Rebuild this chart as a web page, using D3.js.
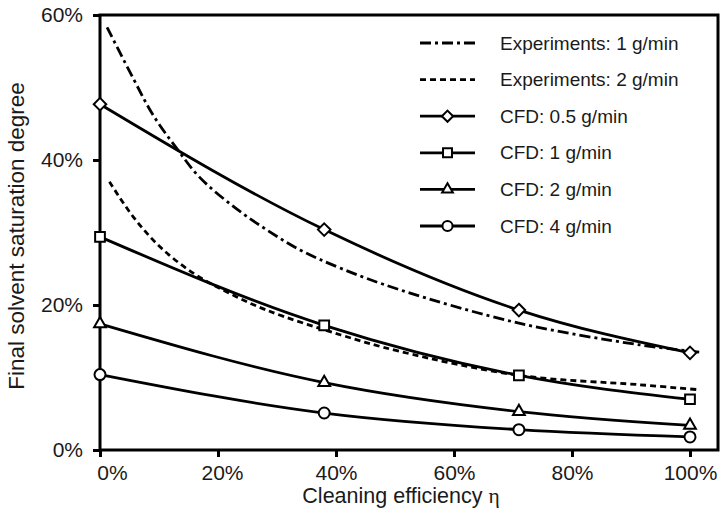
<!DOCTYPE html>
<html>
<head>
<meta charset="utf-8">
<script src="https://cdn.jsdelivr.net/npm/d3@7"></script>
<style>
  body { margin: 0; background: #fff; }
  text { font-family: "Liberation Sans", Arial, sans-serif; fill: #1a1a1a; }
</style>
</head>
<body>
<div id="chart"></div>
<script>
// CFD runs share the same cleaning efficiency points
const cfdX = [0, 38, 71, 100];
const cfd05 = [47.7, 30.4, 19.3, 13.4];
const cfd1 = [29.4, 17.2, 10.3, 7.0];
const cfd2 = [17.4, 9.3, 5.3, 3.4];
const cfd4 = [10.4, 5.1, 2.8, 1.8];

const exp1X = [1.2, 5.6, 9.0, 13, 16.9, 22.6, 28.2, 33.9, 40.7, 50.8, 71, 91.5, 101.7];
const exp1Y = [58.3, 51.3, 46.2, 41.6, 37.6, 33.6, 30.4, 27.6, 25.1, 22.1, 17.5, 14.5, 13.5];
const exp2X = [1.6, 5.6, 10.2, 15.8, 21.5, 28.2, 40.7, 50.8, 71, 91.5, 101.7];
const exp2Y = [37.0, 32.2, 28.0, 24.4, 21.8, 19.3, 15.9, 13.6, 10.3, 9.0, 8.3];

const xTicks = [0, 20, 40, 60, 80, 100];
const yTicks = [0, 20, 40, 60];
const legendLabels = ["Experiments: 1 g/min", "Experiments: 2 g/min", "CFD: 0.5 g/min",
    "CFD: 1 g/min", "CFD: 2 g/min", "CFD: 4 g/min"];

const W = 725, H = 512;
const frame = {left: 100, right: 718, top: 15, bottom: 450};

const svg = d3.select("#chart").append("svg")
    .attr("width", W).attr("height", H);

const x = d3.scaleLinear().domain([0, 100]).range([frame.left, 690]);
const y = d3.scaleLinear().domain([0, 60]).range([frame.bottom, frame.top]);

// frame
svg.append("rect")
    .attr("x", frame.left).attr("y", frame.top)
    .attr("width", frame.right - frame.left).attr("height", frame.bottom - frame.top)
    .attr("fill", "none").attr("stroke", "#000").attr("stroke-width", 3);

let xAxis = svg.append("g")
    .attr("transform", "translate(0," + frame.bottom + ")")
    .call(d3.axisBottom(x).tickValues(xTicks).tickSize(7).tickPadding(8)
        .tickFormat(d => d + "%"));
xAxis.select(".domain").remove();
xAxis.selectAll("line").attr("stroke", "#000").attr("stroke-width", 3);
xAxis.selectAll("text").attr("font-size", 21)
    .attr("dx", d => d === 0 ? 12 : (d === 20 ? 4 : 0));

let yAxis = svg.append("g")
    .attr("transform", "translate(" + frame.left + ",0)")
    .call(d3.axisLeft(y).tickValues(yTicks).tickSize(7).tickPadding(10)
        .tickFormat(d => d + "%"));
yAxis.select(".domain").remove();
yAxis.selectAll("line").attr("stroke", "#000").attr("stroke-width", 3);
yAxis.selectAll("text").attr("font-size", 21);

let xTitle = svg.append("text")
    .attr("x", 401).attr("y", 503)
    .attr("text-anchor", "middle").attr("font-size", 21.5);
xTitle.append("tspan").text("Cleaning efficiency ");
xTitle.append("tspan")
    .style("font-family", "'Liberation Serif', 'DejaVu Serif', serif")
    .text("\u03b7");

svg.append("text")
    .attr("transform", "translate(24,236) rotate(-90)")
    .attr("text-anchor", "middle").attr("font-size", 22.5)
    .text("Final solvent saturation degree");

const plot = svg.append("g");

const line = d3.line()
    .x(d => x(d[0]))
    .y(d => y(d[1]))
    .curve(d3.curveMonotoneX);

const smooth = d3.line()
    .x(d => x(d[0]))
    .y(d => y(d[1]))
    .curve(d3.curveCatmullRom.alpha(0.5));

const dashDot = "11,4,3,4";
const dashed = "6,4";

plot.append("path")
    .attr("d", smooth(d3.zip(exp1X, exp1Y)))
    .attr("fill", "none").attr("stroke", "#000").attr("stroke-width", 2.8)
    .attr("stroke-dasharray", dashDot);

plot.append("path")
    .attr("d", smooth(d3.zip(exp2X, exp2Y)))
    .attr("fill", "none").attr("stroke", "#000").attr("stroke-width", 2.8)
    .attr("stroke-dasharray", dashed);

const cfdSeries = [
    {vals: cfd05, sym: d3.symbolDiamond2, size: 100},
    {vals: cfd1, sym: d3.symbolSquare, size: 95},
    {vals: cfd2, sym: d3.symbolTriangle, size: 60},
    {vals: cfd4, sym: d3.symbolCircle, size: 95}
];

cfdSeries.forEach(function (s) {
    plot.append("path")
        .attr("d", line(d3.zip(cfdX, s.vals)))
        .attr("fill", "none").attr("stroke", "#000").attr("stroke-width", 2.8);
    plot.selectAll(null)
        .data(d3.zip(cfdX, s.vals))
        .enter()
        .append("path")
        .attr("transform", d => "translate(" + x(d[0]) + "," + y(d[1]) + ")")
        .attr("d", d3.symbol().type(s.sym).size(s.size))
        .attr("fill", "#fff").attr("stroke", "#000").attr("stroke-width", 2);
});

// legend
const legend = svg.append("g").attr("transform", "translate(420,43)");
const legendStyles = [
    {dash: dashDot}, {dash: dashed},
    {sym: d3.symbolDiamond2, size: 80}, {sym: d3.symbolSquare, size: 80},
    {sym: d3.symbolTriangle, size: 50}, {sym: d3.symbolCircle, size: 80}
];

legendLabels.forEach(function (lab, i) {
    let row = legend.append("g").attr("transform", "translate(0," + i * 36.6 + ")");
    let st = legendStyles[i];
    row.append("line")
        .attr("x1", 0).attr("x2", 55)
        .attr("stroke", "#000").attr("stroke-width", 2.8)
        .attr("stroke-dasharray", st.dash || null);
    if (st.sym) {
        row.append("path")
            .attr("transform", "translate(27.5,0)")
            .attr("d", d3.symbol().type(st.sym).size(st.size))
            .attr("fill", "#fff").attr("stroke", "#000").attr("stroke-width", 2);
    }
    row.append("text")
        .attr("x", 80).attr("y", 6.5)
        .attr("font-size", 19)
        .text(lab);
});
</script>
</body>
</html>
